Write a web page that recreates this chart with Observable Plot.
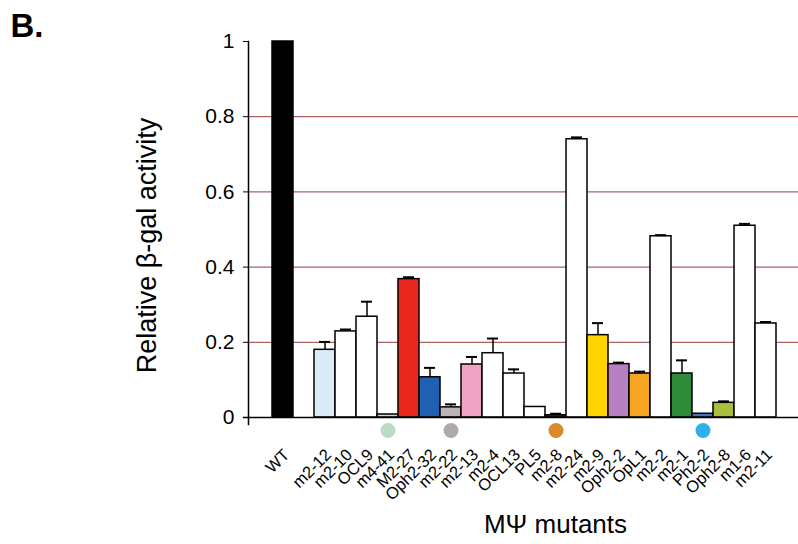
<!DOCTYPE html>
<html><head><meta charset="utf-8">
<script src="https://cdn.jsdelivr.net/npm/d3@7"></script>
<script src="https://cdn.jsdelivr.net/npm/@observablehq/plot@0.6"></script>
<style>body{margin:0;background:#fff;font-family:"Liberation Sans",Arial,sans-serif}</style>
</head><body><div id="chart"></div>
<script>
const mutants = ["WT","m2-12","m2-10","OCL9","m4-41","M2-27","Oph2-32","m2-22","m2-13","m2-4","OCL13","PL5","m2-8","m2-24","m2-9","Oph2-2","OpL1","m2-2","m2-1","Ph2-2","Oph2-8","m1-6","m2-11"];
const activity = [1.0,0.18,0.229,0.268,0.008,0.368,0.107,0.027,0.141,0.171,0.117,0.028,0.006,0.740,0.219,0.142,0.117,0.482,0.117,0.010,0.039,0.510,0.250];
const errorTop = [null,0.201,0.234,0.308,null,0.373,0.132,0.035,0.161,0.210,0.128,null,0.010,0.745,0.251,0.146,0.122,0.485,0.152,null,0.043,0.515,0.254];
const fills = ["#000000","#d9ecf7","#ffffff","#ffffff","#c4dcc8","#e8281e","#2060b0","#bdb3b3","#f0a3c3","#ffffff","#ffffff","#ffffff","#333333","#ffffff","#ffd400","#b57fc2","#f5a521","#ffffff","#2f8a3a","#4a72b8","#a9c03c","#ffffff","#ffffff"];
const markerNames = ["m4-41","m2-22","m2-8","Ph2-2"];
const markerColors = ["#b9dcc2","#b0a8ac","#d98a2a","#2fb0ea"];
const yTicks = [0,0.2,0.4,0.6,0.8,1];
const gridTicks = [0.2,0.4,0.6,0.8];
const slots = ["WT","", ...mutants.slice(1)];

const data = mutants.map((m,i)=>({name:m, value:activity[i], err:errorTop[i], fill:fills[i]}));
const errs = data.filter(d=>d.err!=null);
const markers = markerNames.map((n,i)=>({name:n, color:markerColors[i]}));

const plot = Plot.plot({
  width:798, height:544, marginLeft:248, marginRight:0, marginTop:41, marginBottom:127,
  x:{domain:slots, range:[264,784.5], padding:0, axis:null},
  y:{domain:[0,1], range:[417,41], axis:null, label:null},
  style:{fontFamily:'"Liberation Sans",Arial,sans-serif', background:"white", color:"black"},
  marks:[
    Plot.ruleY(gridTicks, {stroke:"#943c3c", strokeWidth:1}),
    Plot.barY(data, {x:"name", y:"value", fill:"fill", stroke:"black", strokeWidth:1.5}),
    Plot.ruleX(errs, {x:"name", y1:"value", y2:"err", stroke:"black", strokeWidth:1.5}),
    Plot.tickY(errs, {x:"name", y:"err", stroke:"black", strokeWidth:2, inset:5}),
    Plot.ruleY([0], {stroke:"black", strokeWidth:1.5, insetLeft:-5}),
    Plot.frame({anchor:"left", stroke:"black", strokeWidth:1.5, insetBottom:-7}),
    Plot.axisY(yTicks, {anchor:"left", tickSize:5, tickPadding:9, fontSize:21, label:null, tickFormat:d=>String(d)}),
    Plot.text(data, {x:"name", text:"name", frameAnchor:"bottom", rotate:-45, textAnchor:"end", lineAnchor:"top", dy:30, dx:-1, fontSize:16.5}),
    Plot.dot(markers, {x:"name", fill:"color", r:7.5, frameAnchor:"bottom", dy:13}),
    Plot.text(["Relative β-gal activity"], {frameAnchor:"left", rotate:-90, dx:-101, dy:16, fontSize:27, textAnchor:"middle", lineAnchor:"middle"}),
    Plot.text(["MΨ mutants"], {frameAnchor:"bottom", dx:32, dy:107, fontSize:26, lineAnchor:"middle"}),
    Plot.text(["B."], {frameAnchor:"top-left", dx:-238, dy:-15, fontSize:33, fontWeight:"bold", textAnchor:"start", lineAnchor:"middle"})
  ]
});
document.getElementById("chart").appendChild(plot);
</script></body></html>
